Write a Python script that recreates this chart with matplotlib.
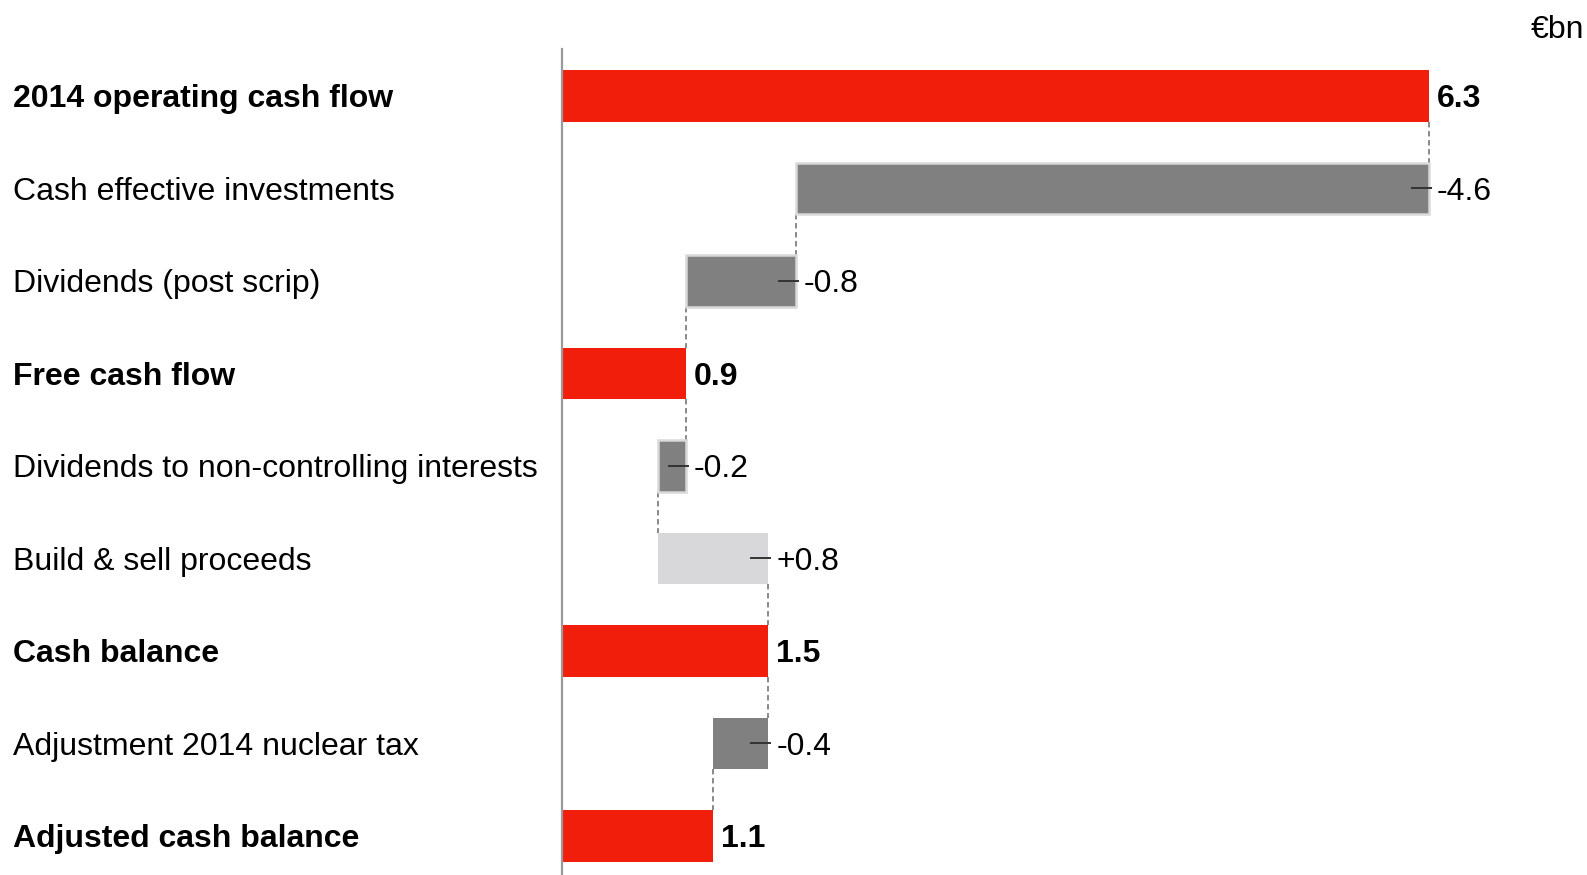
import matplotlib
matplotlib.use("Agg")
import matplotlib.pyplot as plt
from matplotlib.transforms import blended_transform_factory

plt.rcParams['font.family'] = ['Liberation Sans', 'DejaVu Sans']

categories = [
    "2014 operating cash flow",
    "Cash effective investments",
    "Dividends (post scrip)",
    "Free cash flow",
    "Dividends to non-controlling interests",
    "Build & sell proceeds",
    "Cash balance",
    "Adjustment 2014 nuclear tax",
    "Adjusted cash balance",
]
values = [6.3, -4.6, -0.8, 0.9, -0.2, 0.8, 1.5, -0.4, 1.1]
kinds = ["total", "delta", "delta", "total", "delta", "delta", "total", "delta", "total"]
value_labels = ["6.3", "-4.6", "-0.8", "0.9", "-0.2", "+0.8", "1.5", "-0.4", "1.1"]
unit_label = "€bn"

RED = "#F21E0C"
DARK = "#808080"
LIGHT = "#D8D8DA"
EDGE = "#D9D9D9"

W, H = 1587, 875
fig = plt.figure(figsize=(W / 100, H / 100), dpi=100)
ax_left, ax_top = 562, 49
ax = fig.add_axes([ax_left / W, 0, (W - ax_left) / W, (H - ax_top) / H])

px_per_unit = 137.6
ax.set_xlim(0, (W - ax_left) / px_per_unit)
step = 92.5
first_center = 96
ax.set_ylim(8 + (H - (first_center + 8 * step)) / step, -(first_center - ax_top) / step)

for s in ["top", "right", "bottom"]:
    ax.spines[s].set_visible(False)
ax.spines["left"].set_color("#999999")
ax.spines["left"].set_linewidth(1.6)
ax.set_xticks([])
ax.set_yticks([])

FS = 23
bar_h = 0.56
running = 0.0
spans = []
for i, (v, k) in enumerate(zip(values, kinds)):
    if k == "total":
        lo, hi = 0.0, v
        running = v
        color, edge = RED, "none"
    else:
        start = running
        running = running + v
        lo, hi = min(start, running), max(start, running)
        if v > 0:
            color, edge = LIGHT, "none"
        else:
            color = DARK
            edge = EDGE if i != 7 else "none"
    ax.barh(i, hi - lo, left=lo, height=bar_h, color=color,
            edgecolor=edge, linewidth=1.8 if edge != "none" else 0, zorder=2)
    spans.append((lo, hi, running))

    # value label and marker tick at the right end of each change
    if k == "delta":
        ax.plot([hi - 18 / px_per_unit, hi + 3 / px_per_unit], [i, i],
                color="#333333", lw=1.4, zorder=3, solid_capstyle="butt")
    ax.annotate(value_labels[i], (hi, i), xytext=(8, 0),
                textcoords="offset pixels", va="center_baseline", ha="left",
                fontsize=FS, fontweight="bold" if k == "total" else "normal",
                color="black")

# dashed connectors between consecutive bars
for i in range(len(values) - 1):
    x = spans[i][2]
    ax.plot([x, x], [i + bar_h / 2, i + 1 - bar_h / 2], color="#808080",
            lw=1.3, ls=(0, (3, 2)), zorder=1)

# category labels on the left
trans = blended_transform_factory(fig.transFigure, ax.transData)
for i, (c, k) in enumerate(zip(categories, kinds)):
    ax.text(13 / W, i, c, transform=trans, ha="left", va="center_baseline",
            fontsize=FS, fontweight="bold" if k == "total" else "normal",
            clip_on=False)

fig.text(1584 / W, 1 - 26 / H, unit_label, ha="right", va="center_baseline", fontsize=FS)

fig.savefig("out.png", dpi=100)
